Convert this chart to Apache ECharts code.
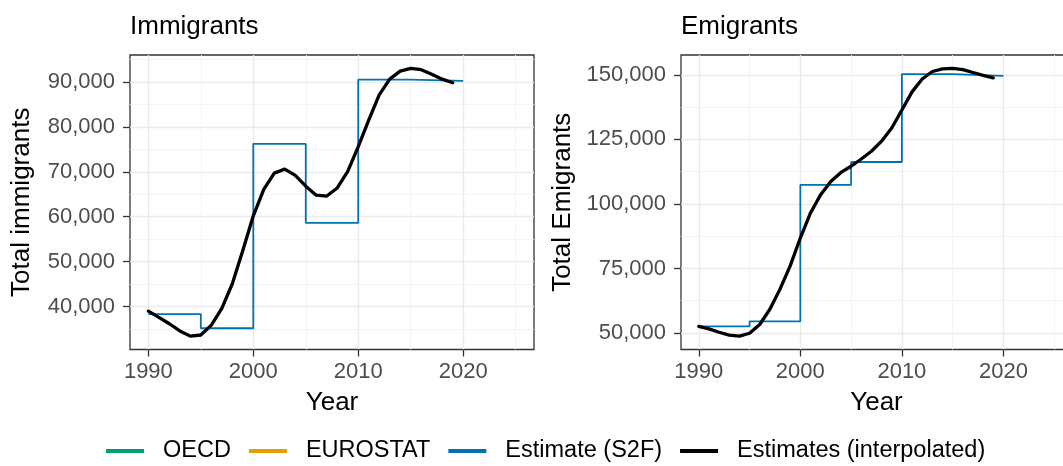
<!DOCTYPE html>
<html>
<head>
<meta charset="utf-8">
<script src="https://cdn.jsdelivr.net/npm/echarts@6/dist/echarts.min.js"></script>
<style>
  html, body { margin: 0; padding: 0; background: #ffffff; }
  #chart { width: 1063px; height: 466px; }
</style>
</head>
<body>
<div id="chart"></div>
<script>
// Annual interpolated estimates
const years = [1990, 1991, 1992, 1993, 1994, 1995, 1996, 1997, 1998, 1999,
               2000, 2001, 2002, 2003, 2004, 2005, 2006, 2007, 2008, 2009,
               2010, 2011, 2012, 2013, 2014, 2015, 2016, 2017, 2018, 2019];
const immInterp = [39000, 37600, 36200, 34600, 33450, 33700, 35900, 39600, 45100, 52500,
                   60200, 66100, 69700, 70600, 69200, 66800, 64800, 64600, 66400, 70100,
                   75600, 81500, 87100, 90600, 92400, 93000, 92700, 91700, 90600, 89800];
const emiInterp = [52550, 51600, 50300, 49200, 48800, 49900, 53300, 59200, 67000, 76000,
                   86800, 96500, 103600, 108700, 112200, 114600, 117400, 120400, 124300, 129400,
                   136400, 143400, 148400, 151300, 152300, 152500, 152000, 150900, 149800, 148800];

// Five-year S2F estimates (value holds until the next period)
const s2fYears = [1990, 1995, 2000, 2005, 2010, 2015, 2020];
const immS2F = [38350, 35200, 76230, 58630, 90515, 90220, 90220];
const emiS2F = [52600, 54500, 107350, 116240, 150260, 149610, 149610];

// Series without observations in this country
const oecdImm = [], oecdEmi = [], eurostatImm = [], eurostatEmi = [];

// Axis domain and tick labels
const yearDomain = [1990, 2025];
const yearTicks = [1990, 2000, 2010, 2020];
const yearMinorTicks = [1995, 2005, 2015, 2025];
const immTicks = [40000, 50000, 60000, 70000, 80000, 90000];
const immMinorTicks = [35000, 45000, 55000, 65000, 75000, 85000, 95000];
const emiTicks = [50000, 75000, 100000, 125000, 150000];
const emiMinorTicks = [62500, 87500, 112500, 137500];

const seriesNames = ['OECD', 'EUROSTAT', 'Estimate (S2F)', 'Estimates (interpolated)'];
const seriesColors = ['#009E73', '#E69F00', '#0072B2', '#000000'];

const FONT = 'Liberation Sans, Arial, Helvetica, sans-serif';

// 5% padding on each side of the data range
function padRange(values) {
  const lo = Math.min(...values), hi = Math.max(...values);
  const d = (hi - lo) * 0.05;
  return [lo - d, hi + d];
}
const xRange = padRange(yearDomain);
const immRange = padRange(immInterp.concat(immS2F));
const emiRange = padRange(emiInterp.concat(emiS2F));

const fmtThousands = v => Math.round(v).toLocaleString('en-US');
const fmtYear = v => String(Math.round(v));

function majorX(grid) {
  return {
    type: 'value', gridIndex: grid, min: xRange[0], max: xRange[1],
    name: 'Year', nameLocation: 'middle', nameGap: 40,
    nameTextStyle: { fontSize: 26, color: '#000', fontFamily: FONT },
    axisLine: { show: false },
    axisTick: { show: true, customValues: yearTicks, length: 7, lineStyle: { color: '#333333', width: 1.3 } },
    axisLabel: { show: true, customValues: yearTicks, fontSize: 22, color: '#4D4D4D', margin: 11,
                 fontFamily: FONT, formatter: fmtYear },
    splitLine: { show: true, lineStyle: { color: '#EBEBEB', width: 1.4 } }
  };
}
function minorX(grid) {
  return {
    type: 'value', gridIndex: grid, min: xRange[0], max: xRange[1], position: 'bottom',
    axisLine: { show: false },
    axisTick: { show: false, customValues: yearMinorTicks },
    axisLabel: { show: false, customValues: yearMinorTicks },
    splitLine: { show: true, lineStyle: { color: '#F3F3F3', width: 0.9 } }
  };
}
function majorY(grid, range, ticks, name, gap) {
  return {
    type: 'value', gridIndex: grid, min: range[0], max: range[1], position: 'left',
    name: name, nameLocation: 'middle', nameGap: gap, nameRotate: 90,
    nameTextStyle: { fontSize: 26, color: '#000', fontFamily: FONT },
    axisLine: { show: false },
    axisTick: { show: true, customValues: ticks, length: 7, lineStyle: { color: '#333333', width: 1.3 } },
    axisLabel: { show: true, customValues: ticks, fontSize: 22, color: '#4D4D4D', margin: 15,
                 fontFamily: FONT, formatter: fmtThousands },
    splitLine: { show: true, lineStyle: { color: '#EBEBEB', width: 1.4 } }
  };
}
function minorY(grid, range, ticks) {
  return {
    type: 'value', gridIndex: grid, min: range[0], max: range[1], position: 'left',
    axisLine: { show: false },
    axisTick: { show: false, customValues: ticks },
    axisLabel: { show: false, customValues: ticks },
    splitLine: { show: true, lineStyle: { color: '#F3F3F3', width: 0.9 } }
  };
}

function pairs(xs, ys) { return xs.map((x, i) => [x, ys[i]]); }

function panelSeries(xi, yi, oecd, eurostat, s2f, interp) {
  return [
    { name: seriesNames[0], type: 'line', xAxisIndex: xi, yAxisIndex: yi, color: seriesColors[0],
      showSymbol: false, data: pairs(years, oecd), lineStyle: { width: 1.7 } },
    { name: seriesNames[1], type: 'line', xAxisIndex: xi, yAxisIndex: yi, color: seriesColors[1],
      showSymbol: false, data: pairs(years, eurostat), lineStyle: { width: 1.7 } },
    { name: seriesNames[2], type: 'line', xAxisIndex: xi, yAxisIndex: yi, color: seriesColors[2],
      step: 'end', showSymbol: false, symbol: 'none', data: pairs(s2fYears, s2f),
      lineStyle: { width: 1.8, color: seriesColors[2] }, z: 3 },
    { name: seriesNames[3], type: 'line', xAxisIndex: xi, yAxisIndex: yi, color: seriesColors[3],
      showSymbol: false, symbol: 'none', data: pairs(years, interp),
      lineStyle: { width: 3.3, color: seriesColors[3], join: 'round', cap: 'round' }, z: 4 }
  ];
}

const chart = echarts.init(document.getElementById('chart'), null, { renderer: 'canvas' });
chart.setOption({
  animation: false,
  backgroundColor: '#ffffff',
  textStyle: { fontFamily: FONT },
  title: [
    { text: 'Immigrants', left: 130, top: 14, padding: 0,
      textStyle: { fontSize: 26, fontWeight: 'normal', color: '#000', fontFamily: FONT } },
    { text: 'Emigrants', left: 681, top: 14, padding: 0,
      textStyle: { fontSize: 26, fontWeight: 'normal', color: '#000', fontFamily: FONT } }
  ],
  legend: {
    left: 106, top: 439, padding: 0, itemGap: 18,
    itemWidth: 38, itemHeight: 4, icon: 'rect',
    selectedMode: false,
    textStyle: { fontSize: 23.5, color: '#000', fontFamily: FONT, padding: [0, 0, 0, 14] },
    data: seriesNames.map((n, i) => ({ name: n, itemStyle: { color: seriesColors[i] } }))
  },
  grid: [
    { left: 130, width: 404, top: 55, height: 294.5, outerBoundsMode: 'none', containLabel: false,
      show: true, borderColor: '#333333', borderWidth: 1.3, backgroundColor: '#ffffff' },
    { left: 681, width: 391, top: 55, height: 294.5, outerBoundsMode: 'none', containLabel: false,
      show: true, borderColor: '#333333', borderWidth: 1.3, backgroundColor: '#ffffff' }
  ],
  xAxis: [majorX(0), majorX(1), minorX(0), minorX(1)],
  yAxis: [
    majorY(0, immRange, immTicks, 'Total immigrants', 95),
    majorY(1, emiRange, emiTicks, 'Total Emigrants', 105),
    minorY(0, immRange, immMinorTicks),
    minorY(1, emiRange, emiMinorTicks)
  ],
  series: [].concat(
    panelSeries(0, 0, oecdImm, eurostatImm, immS2F, immInterp),
    panelSeries(1, 1, oecdEmi, eurostatEmi, emiS2F, emiInterp)
  )
});
</script>
</body>
</html>
